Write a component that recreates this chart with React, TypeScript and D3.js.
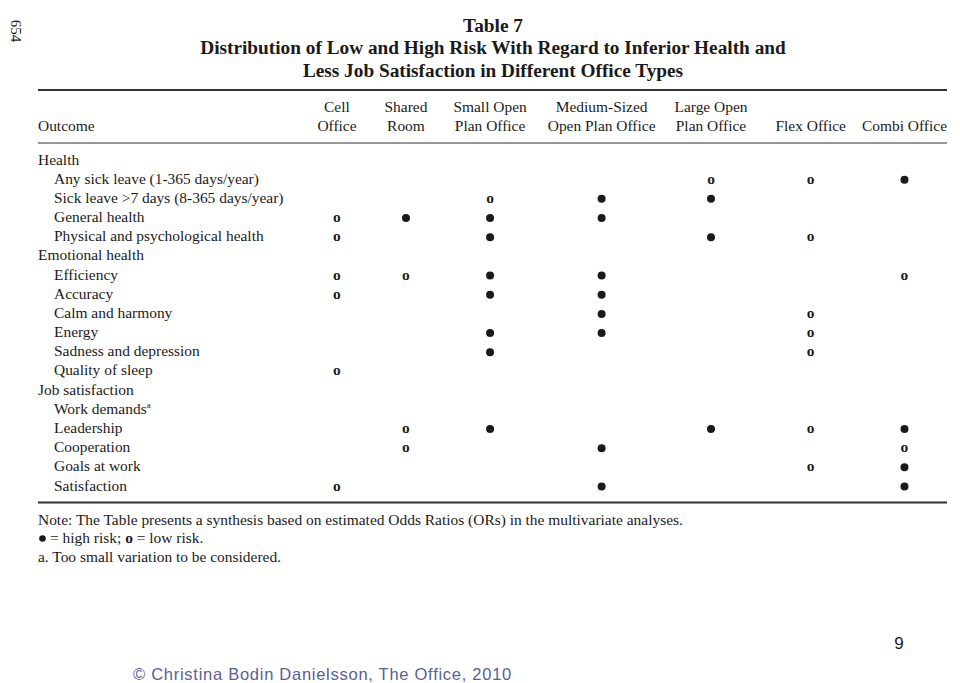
import { useRef, useEffect } from 'react';
import * as d3 from 'd3';

const pageNumber = '654';
const titleLines = [
  'Table 7',
  'Distribution of Low and High Risk With Regard to Inferior Health and',
  'Less Job Satisfaction in Different Office Types',
];
const officeTypes = ['Cell', 'Shared', 'SmallOpen', 'MediumOpen', 'LargeOpen', 'Flex', 'Combi'];
const headerTop = ['Cell', 'Shared', 'Small Open', 'Medium-Sized', 'Large Open', '', ''];
const headerBottom = ['Office', 'Room', 'Plan Office', 'Open Plan Office', 'Plan Office', 'Flex Office', 'Combi Office'];

const outcomes = [
  'Health',
  'Any sick leave (1-365 days/year)',
  'Sick leave >7 days (8-365 days/year)',
  'General health',
  'Physical and psychological health',
  'Emotional health',
  'Efficiency',
  'Accuracy',
  'Calm and harmony',
  'Energy',
  'Sadness and depression',
  'Quality of sleep',
  'Job satisfaction',
  'Work demands',
  'Leadership',
  'Cooperation',
  'Goals at work',
  'Satisfaction',
];
const groupOutcomes = ['Health', 'Emotional health', 'Job satisfaction'];
const outcomeFootnotes = ['', '', '', '', '', '', '', '', '', '', '', '', '', 'a', '', '', '', ''];

// H = high risk (filled dot), L = low risk (bold o)
const riskByOutcome = [
  ['', '', '', '', '', '', ''],
  ['', '', '', '', 'L', 'L', 'H'],
  ['', '', 'L', 'H', 'H', '', ''],
  ['L', 'H', 'H', 'H', '', '', ''],
  ['L', '', 'H', '', 'H', 'L', ''],
  ['', '', '', '', '', '', ''],
  ['L', 'L', 'H', 'H', '', '', 'L'],
  ['L', '', 'H', 'H', '', '', ''],
  ['', '', '', 'H', '', 'L', ''],
  ['', '', 'H', 'H', '', 'L', ''],
  ['', '', 'H', '', '', 'L', ''],
  ['L', '', '', '', '', '', ''],
  ['', '', '', '', '', '', ''],
  ['', '', '', '', '', '', ''],
  ['', 'L', 'H', '', 'H', 'L', 'H'],
  ['', 'L', '', 'H', '', '', 'L'],
  ['', '', '', '', '', 'L', 'H'],
  ['L', '', '', 'H', '', '', 'H'],
];

const noteText = 'Note: The Table presents a synthesis based on estimated Odds Ratios (ORs) in the multivariate analyses.';
const legendHigh = '= high risk; ';
const legendLow = ' = low risk.';
const footnoteText = 'a. Too small variation to be considered.';
const slideNumber = '9';
const credit = '\u00A9 Christina Bodin Danielsson, The Office, 2010';

const SERIF = '"Liberation Serif", "Times New Roman", serif';
const SANS = '"Liberation Sans", Arial, sans-serif';

function App() {
  const ref = useRef<SVGSVGElement | null>(null);

  useEffect(() => {
    const el = ref.current;
    if (!el) return;
    el.innerHTML = '';

    const width = 960;
    const height = 683;
    const left = 38;
    const right = 947;
    const ink = '#1a1a1a';

    const svg = d3.select(el).attr('width', width).attr('height', height);
    svg.append('rect').attr('width', width).attr('height', height).attr('fill', '#fff');

    // rotated page number
    svg.append('text')
      .attr('transform', 'translate(11,31) rotate(90)')
      .attr('text-anchor', 'middle')
      .attr('font-family', SERIF)
      .attr('font-size', 15)
      .attr('fill', ink)
      .text(pageNumber);

    // title
    const titleBase = [32, 54, 77];
    svg.append('g').selectAll('text')
      .data(titleLines)
      .join('text')
      .attr('x', 493)
      .attr('y', (_, i) => titleBase[i])
      .attr('text-anchor', 'middle')
      .attr('font-family', SERIF)
      .attr('font-weight', 'bold')
      .attr('font-size', 19.3)
      .attr('fill', ink)
      .text(d => d);

    // rules
    const rule = (y: number, w: number) =>
      svg.append('line').attr('x1', left).attr('x2', right).attr('y1', y).attr('y2', y)
        .attr('stroke', '#333').attr('stroke-width', w);
    rule(90, 2);
    rule(143, 1.2);
    rule(502.5, 2);

    // header: measure widths to lay out columns right-aligned
    const fontSize = 15.45;
    const header = svg.append('g')
      .attr('font-family', SERIF)
      .attr('font-size', fontSize)
      .attr('fill', ink);

    const measure = (s: string) => {
      if (!s) return 0;
      const t = header.append('text').text(s);
      const w = (t.node() as SVGTextElement).getComputedTextLength();
      t.remove();
      return w;
    };
    const colWidths = officeTypes.map((_, i) => Math.max(measure(headerTop[i]), measure(headerBottom[i])));
    // space left of each column (between it and its neighbour)
    const colGaps = [0, 28, 26, 21, 19, 28, 16];
    const centers: number[] = new Array(officeTypes.length);
    let edge = right;
    for (let i = officeTypes.length - 1; i >= 0; i--) {
      centers[i] = edge - colWidths[i] / 2;
      edge -= colWidths[i] + colGaps[i];
    }
    const x = d3.scaleOrdinal<string, number>().domain(officeTypes).range(centers);

    header.append('text').attr('x', left).attr('y', 131).text('Outcome');
    header.selectAll('.top')
      .data(officeTypes)
      .join('text')
      .attr('class', 'top')
      .attr('x', d => x(d))
      .attr('y', 112)
      .attr('text-anchor', 'middle')
      .text((_, i) => headerTop[i]);
    header.selectAll('.bottom')
      .data(officeTypes)
      .join('text')
      .attr('class', 'bottom')
      .attr('x', d => x(d))
      .attr('y', 131)
      .attr('text-anchor', 'middle')
      .text((_, i) => headerBottom[i]);

    // body rows
    const y = d3.scalePoint<string>().domain(outcomes).range([159.5, 485.5]);
    const body = svg.append('g')
      .attr('font-family', SERIF)
      .attr('font-size', fontSize)
      .attr('fill', ink);

    const labels = body.selectAll('.label')
      .data(outcomes)
      .join('text')
      .attr('class', 'label')
      .attr('x', d => (groupOutcomes.includes(d) ? left : 54))
      .attr('y', d => (y(d) as number) + 5);
    labels.append('tspan').text(d => d);
    labels.filter(d => outcomeFootnotes[outcomes.indexOf(d)] !== '')
      .append('tspan')
      .attr('font-size', 9)
      .attr('dy', -6)
      .text(d => outcomeFootnotes[outcomes.indexOf(d)]);

    const cells = outcomes.flatMap((o, r) =>
      officeTypes.map((c, k) => ({ outcome: o, office: c, risk: riskByOutcome[r][k] })),
    ).filter(d => d.risk !== '');

    body.selectAll('.high')
      .data(cells.filter(d => d.risk === 'H'))
      .join('circle')
      .attr('class', 'high')
      .attr('cx', d => x(d.office))
      .attr('cy', d => (y(d.outcome) as number) + 1)
      .attr('r', 4)
      .attr('fill', ink);

    body.selectAll('.low')
      .data(cells.filter(d => d.risk === 'L'))
      .join('text')
      .attr('class', 'low')
      .attr('x', d => x(d.office))
      .attr('y', d => (y(d.outcome) as number) + 5)
      .attr('text-anchor', 'middle')
      .attr('font-weight', 'bold')
      .text('o');

    // notes
    const notes = svg.append('g')
      .attr('font-family', SERIF)
      .attr('font-size', fontSize)
      .attr('fill', ink);
    notes.append('text').attr('x', left).attr('y', 525).text(noteText);
    notes.append('circle').attr('cx', 42.5).attr('cy', 538.5).attr('r', 3.3).attr('fill', ink);
    const legend = notes.append('text').attr('x', 50).attr('y', 543);
    legend.append('tspan').text(legendHigh);
    legend.append('tspan').attr('font-weight', 'bold').text('o');
    legend.append('tspan').text(legendLow);
    notes.append('text').attr('x', left).attr('y', 562).text(footnoteText);

    // slide number and credit
    svg.append('text')
      .attr('x', 899)
      .attr('y', 649)
      .attr('text-anchor', 'middle')
      .attr('font-family', SANS)
      .attr('font-size', 17)
      .attr('fill', '#222')
      .text(slideNumber);

    svg.append('text')
      .attr('x', 133)
      .attr('y', 680)
      .attr('font-family', SANS)
      .attr('font-size', 16.5)
      .attr('letter-spacing', 0.73)
      .attr('fill', '#5b5e98')
      .text(credit);
  }, []);

  return (
    <svg ref={ref} style={{ position: 'absolute', left: 0, top: 0, display: 'block' }} />
  );
}

export default App;
